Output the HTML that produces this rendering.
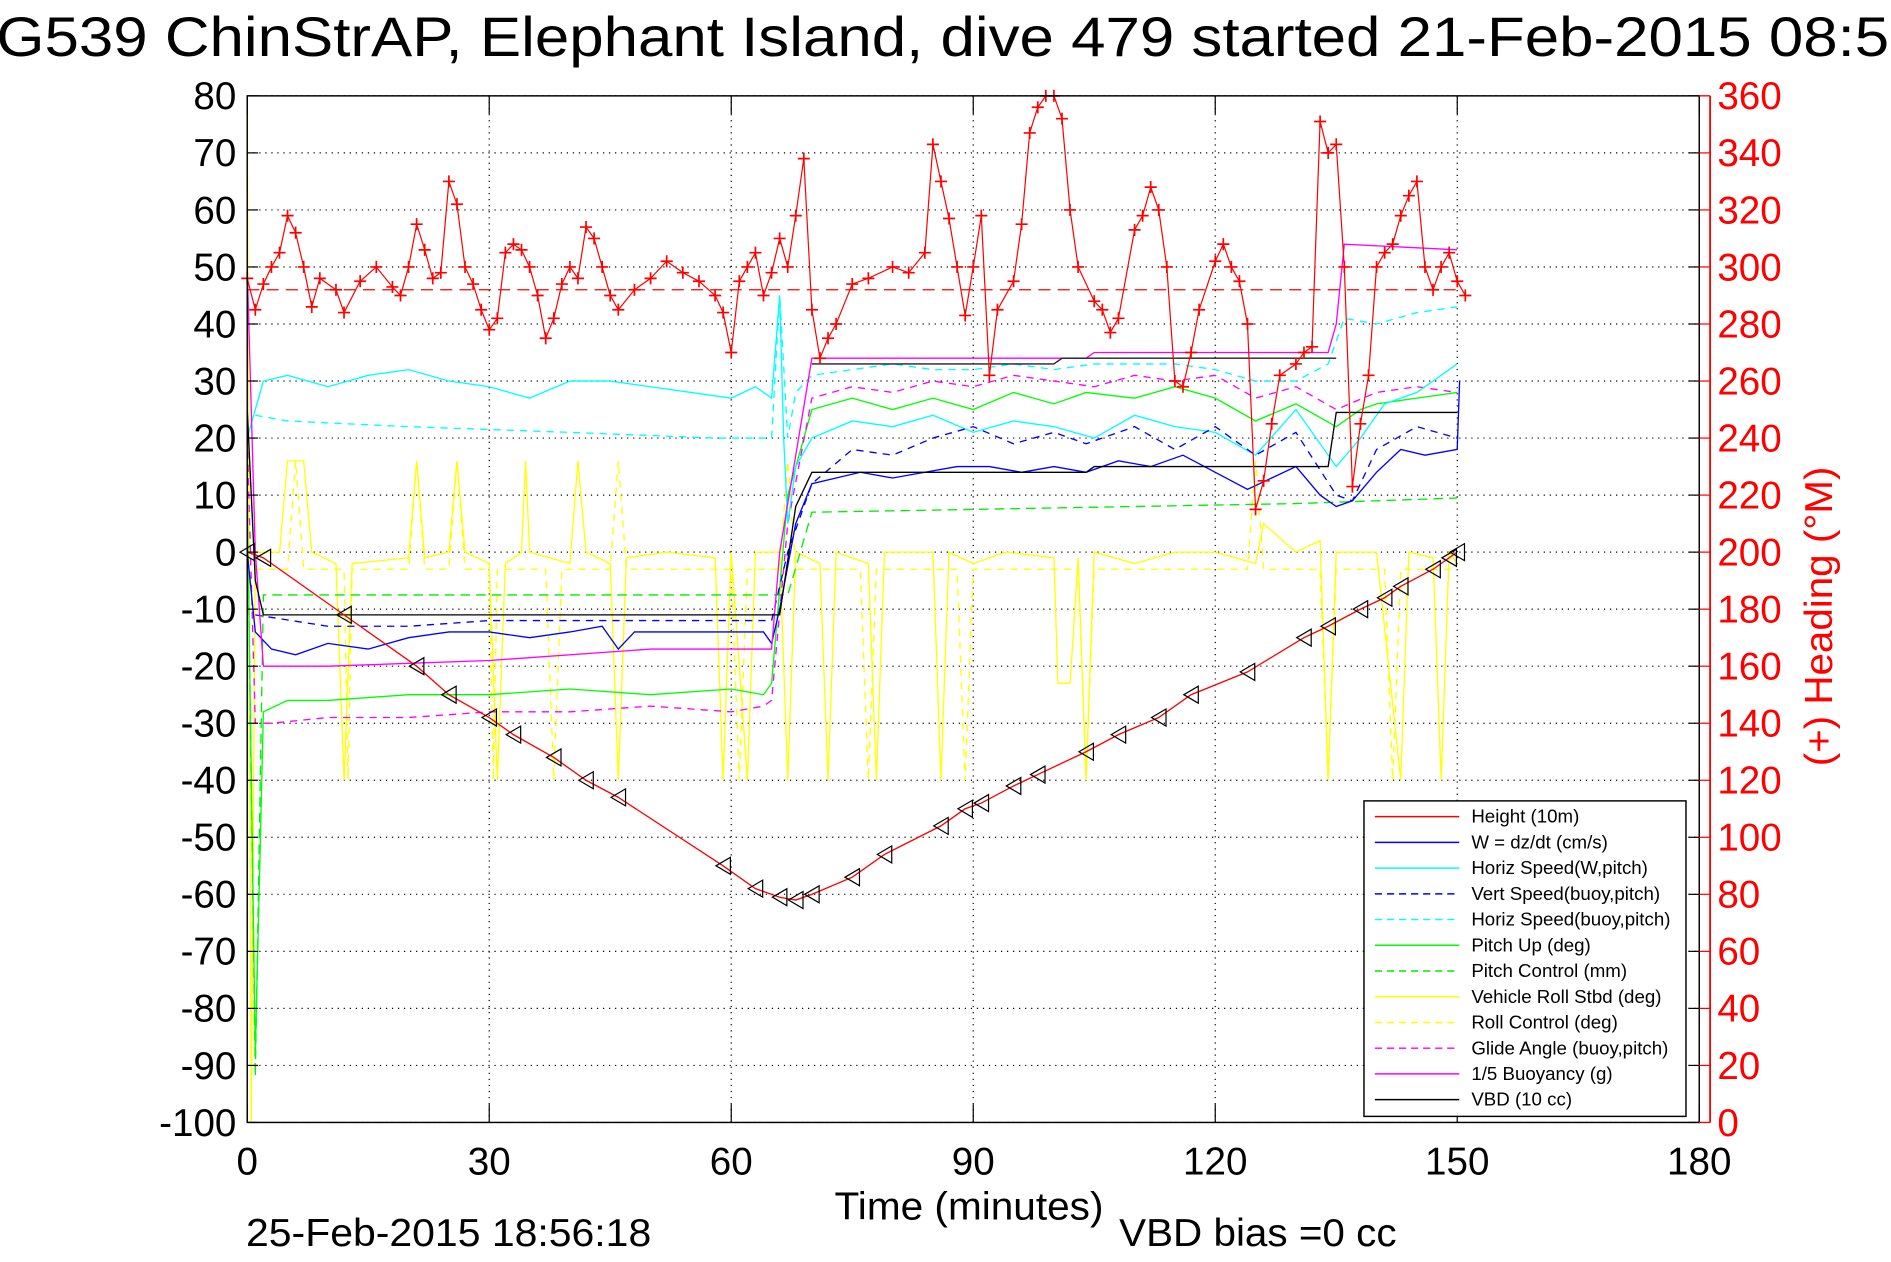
<!DOCTYPE html>
<html><head><meta charset="utf-8"><style>
html,body{margin:0;padding:0;background:#fff;}
svg{display:block;font-family:"Liberation Sans",sans-serif;}
</style></head><body>
<svg id="chart" width="1891" height="1262" viewBox="0 0 1568 1040" preserveAspectRatio="none" xmlns="http://www.w3.org/2000/svg">
<rect x="0" y="0" width="1568" height="1040" fill="#fff"/>
<text x="-3" y="46" font-size="46" textLength="1598" lengthAdjust="spacingAndGlyphs">G539 ChinStrAP, Elephant Island, dive 479 started 21-Feb-2015 08:59</text>
<g id="grid"></g>
<g id="series"></g>
<g id="axes"></g>
<text x="692" y="1005" font-size="32" textLength="223" lengthAdjust="spacingAndGlyphs">Time (minutes)</text>
<text x="204" y="1027" font-size="32" textLength="336" lengthAdjust="spacingAndGlyphs">25-Feb-2015 18:56:18</text>
<text x="928" y="1027" font-size="32" textLength="230" lengthAdjust="spacingAndGlyphs">VBD bias =0 cc</text>
<text transform="translate(1519,508) rotate(-90)" font-size="32" fill="#f00" text-anchor="middle" textLength="247" lengthAdjust="spacingAndGlyphs">(+) Heading (°M)</text>
<g>
<rect x="1131" y="660" width="267" height="260" fill="#fff" stroke="#000" stroke-width="1.2"/>
<g id="legend-items"></g>
</g>
</svg>
<script>
const heightT=[0,2,12,21,25,30,33,38,42,46,59,63,66,68,70,75,79,86,89,91,95,98,104,108,113,117,124,131,134,138,141,143,147,149,150];
const heightV=[0,-1,-11,-20,-25,-29,-32,-36,-40,-43,-55,-59,-60.5,-61,-60,-57,-53,-48,-45,-44,-41,-39,-35,-32,-29,-25,-21,-15,-13,-10,-8,-6,-3,-1,0];
const wT=[0,1,3,6,10,15,20,25,30,35,40,44,46,48,52,56,60,64,65,66,68,70,73,76,80,84,88,92,96,100,104,108,112,116,120,124,127,130,133,135,137,140,143,146,150,150.3];
const wV=[0,-14,-17,-18,-16,-17,-15,-14,-14,-15,-14,-13,-17,-14,-14,-14,-14,-14,-16,-10,5,12,13,14,13,14,15,15,14,15,14,16,15,17,14,11,13,15,10,8,9,14,18,17,18,30];
const vsT=[1,10,20,30,40,50,60,65,67,70,75,80,85,90,95,100,104,110,115,120,125,130,135,137,140,145,150];
const vsV=[-11,-13,-13,-12,-12,-12,-12,-12,0,12,18,17,20,22,19,21,19,22,18,22,17,21,10,9,18,22,20];
const hsT=[0,2,5,10,15,20,25,30,35,40,45,50,55,60,63,65,66,66.5,67,68,70,75,80,85,90,95,100,105,110,115,120,125,130,135,138,141,145,150];
const hsV=[20,30,31,29,31,32,30,29,27,30,30,29,28,27,29,27,45,20,5,15,20,23,22,24,21,23,22,20,24,22,21,17,25,15,20,26,28,33];
const hbT=[1,5,20,40,58,60,63,65,66,67,68,70,75,80,85,90,95,100,105,110,115,120,125,130,134,136,140,145,150];
const hbV=[24,23,22,21,20,20,20,20,45,20,28,31,32,33,32,32,33,32,33,33,33,32,30,30,33,41,40,42,43];
const puT=[0,1,2,5,10,20,30,40,50,60,64,65,67,70,75,80,85,90,95,100,104,110,115,120,125,130,135,138,140,145,150];
const puV=[10,-88,-28,-26,-26,-25,-25,-24,-25,-24,-25,-23,10,25,27,25,27,25,28,26,28,27,29,27,23,26,22,25,26,27,28];
const pcT=[0,1,2,65,67,70,90,110,130,150];
const pcV=[10,-92,-7.5,-7.5,-7.5,7,7.5,8,8.5,9.5];
const gaT=[0,1,3,10,20,30,40,50,60,64,65,67,70,75,80,85,90,95,100,105,110,115,120,125,130,135,140,145,150];
const gaV=[20,-30,-30,-29,-29,-28,-28,-27,-28,-27,-26,5,27,29,28,30,29,31,30,29,31,30,31,27,29,25,28,29,28];
const buT=[0,1,2,10,30,50,65,66,70,104,105,134,135,136,150];
const buV=[50,0,-20,-20,-19,-17,-17,0,34,34,35,35,40,54,53];
const vbdT=[0,1,2,65,66,68,70,104,105,134,135,150];
const vbdV=[25,-5,-11,-11,-11,8,14,14,15,15,24.5,24.5];
const vbd2T=[70,100,101,135];
const vbd2V=[33,33,34,34];
const rollT=[0,0.5,1,4,5,7,8,11,12,13,20,21,22,25,26,27,30,31,32,34,34.5,35,40,41,42,45,46,47,52,58,59,60,62,63,66,67,68,71,72,73,77,78,79,85,86,87,90,94,100,100.5,102,103,104,105,110,115,120,125,126,130,133,134,135,140,143,144,147,148,149,150];
const rollV=[80,-100,0,0,16,16,0,-2,-40,-2,-1,16,-1,0,16,0,-2,-40,-2,0,16,0,-2,16,0,-2,-40,-1,0,-1,-40,0,-40,0,0,-40,0,-2,-40,0,-2,-40,0,0,-40,0,-2,0,-1,-23,-23,-1,-40,0,-2,0,0,-2,5,0,2,-40,0,0,-40,0,-1,-40,0,-2];
const rcT=[1,5,6,7,12,12.5,13,20,21,22,25,26,27,30,30.5,31,37,38,39,45,46,47,60,61,62,66,67,68,76,77,78,88,89,90,103,104,105,124,125,126,133,134,135,141,142,143,150];
const rcV=[-3,-3,16,-3,-3,-40,-3,-3,16,-3,-3,16,-3,-3,-40,-3,-3,-40,-3,-3,16,-3,-3,-40,-3,-3,16,-3,-3,-40,-3,-3,-40,-3,-3,-40,-3,-3,16,-3,-3,-40,-3,-3,-40,-3,-3];
const headT=[0,1,2,3,4,5,6,7,8,9,11,12,14,16,18,19,20,21,22,23,24,25,26,27,28,29,30,31,32,33,34,35,36,37,38,39,40,41,42,43,44,45,46,48,50,52,54,56,58,59,60,61,62,63,64,65,66,67,68,69,70,71,72,73,75,77,80,82,84,85,86,87,88,89,90,91,92,93,95,96,97,98,99,100,101,102,103,105,106,107,108,110,111,112,113,114,115,116,117,118,120,121,122,123,124,125,126,127,128,130,131,132,133,134,135,136,137,138,139,140,141,142,143,144,145,146,147,148,149,150,151];
const headV=[296,285,294,300,305,318,312,300,286,296,292,284,295,300,293,290,300,315,306,296,298,330,322,300,294,285,278,282,305,308,306,300,290,275,282,294,300,296,314,310,300,290,285,292,296,302,298,295,290,284,270,295,300,305,290,298,310,300,318,338,285,268,275,280,294,296,300,298,305,343,330,317,300,283,300,318,262,285,295,315,347,356,360,360,352,320,300,288,285,277,282,313,318,328,320,300,260,258,270,285,302,308,300,295,280,215,225,245,262,266,270,272,351,340,343,300,223,245,262,300,305,308,318,325,330,300,292,300,305,295,290];
const leftTicks=[80,70,60,50,40,30,20,10,0,-10,-20,-30,-40,-50,-60,-70,-80,-90,-100];
const rightTicks=[360,340,320,300,280,260,240,220,200,180,160,140,120,100,80,60,40,20,0];
const xTicks=[0,30,60,90,120,150,180];

const X0=205,X1=1409,Y0=79,Y1=925,NS='http://www.w3.org/2000/svg';
const sx=t=>X0+(t/180)*(X1-X0);
const sy=v=>Y0+((80-v)/180)*(Y1-Y0);
const sh=h=>Y1-(h/360)*(Y1-Y0);
function mk(tag,attrs,parent){const e=document.createElementNS(NS,tag);for(const k in attrs)e.setAttribute(k,attrs[k]);parent.appendChild(e);return e;}
const grid=document.getElementById('grid'),axes=document.getElementById('axes'),ser=document.getElementById('series');

leftTicks.forEach(v=>{
  const g=mk('line',{x1:X0,x2:X1,y1:sy(v),y2:sy(v),stroke:'#000','stroke-width':1,'stroke-dasharray':'1 4'},grid);
  
  
  const tk=mk('line',{x1:X0,x2:X0+9,y1:sy(v),y2:sy(v),stroke:'#000'},axes);
  
  
  const tk2=mk('line',{x1:X1-9,x2:X1,y1:sy(v),y2:sy(v),stroke:'#000'},axes);
  
  
  const t=mk('text',{x:X0-9,y:sy(v)+11,'font-size':32,'text-anchor':'end'},axes);
  t.textContent=v;
  
  
});
xTicks.forEach(v=>{
  if(v>0&&v<180){const g=mk('line',{x1:sx(v),x2:sx(v),y1:Y0,y2:Y1,stroke:'#000','stroke-width':1,'stroke-dasharray':'1 4'},grid);
  
  }
  mk('line',{x1:sx(v),x2:sx(v),y1:Y1,y2:Y1-15,stroke:'#000'},axes);
  mk('line',{x1:sx(v),x2:sx(v),y1:Y0,y2:Y0+15,stroke:'#000'},axes);
  const t=mk('text',{x:sx(v),y:968,'font-size':32,'text-anchor':'middle'},axes);
  t.textContent=v;
  
  
});
const frame=mk('rect',{x:X0,y:Y0,width:X1-X0,height:Y1-Y0,fill:'none',stroke:'#000','stroke-width':1.2},axes);


const RX=1418;
const rax=mk('line',{x1:RX,x2:RX,y1:Y0,y2:Y1,stroke:'#f00','stroke-width':1.5},axes);


mk('line',{x1:X1,x2:RX,y1:Y1,y2:Y1,stroke:'#f00'},axes);
mk('line',{x1:X1,x2:RX,y1:Y0,y2:Y0,stroke:'#f00'},axes);
rightTicks.forEach(h=>{
  mk('line',{x1:RX-9,x2:RX,y1:sh(h),y2:sh(h),stroke:'#f00'},axes);
  const t=mk('text',{x:RX+6,y:sh(h)+11,'font-size':32,fill:'#f00'},axes);
  t.textContent=h;
  
  
});

function line(T,V,color,dash,name,w,ys){
  const f=ys||sy;
  const p=mk('polyline',{points:T.map((t,i)=>sx(t).toFixed(1)+','+f(V[i]).toFixed(1)).join(' '),fill:'none',stroke:color,'stroke-width':w||1.1,'stroke-dasharray':dash||'none'},ser);
  
  
}
line(rollT,rollV,'#ff0',null,'vehicle-roll-line');
line(rcT,rcV,'#ff0','6 5','roll-control-line');
line(pcT,pcV,'#0e0','8 5','pitch-control-line');
line(puT,puV,'#0f0',null,'pitch-up-line');
line(gaT,gaV,'#f0f','6 5','glide-angle-line');
line(hbT,hbV,'#0ff','6 5','horiz-speed-buoy-line');
line(hsT,hsV,'#0ff',null,'horiz-speed-w-line');
line(vsT,vsV,'#00f','6 5','vert-speed-buoy-line');
line(wT,wV,'#00f',null,'w-line');
line(buT,buV,'#f0f',null,'buoyancy-line');
line(vbdT,vbdV,'#000',null,'vbd-line');
line(vbd2T,vbd2V,'#222',null,'vbd-secondary-line');
const hd=mk('line',{x1:sx(0),x2:sx(150),y1:sh(292),y2:sh(292),stroke:'#f00','stroke-dasharray':'10 6'},ser);


line(headT,headV,'#f00',null,'heading-line',1,sh);
headT.forEach((t,i)=>{
  const x=sx(t),y=sh(headV[i]);
  const m=mk('path',{d:`M${x-5},${y}H${x+5}M${x},${y-5}V${y+5}`,stroke:'#f00','stroke-width':1.4},ser);
  
  
});
line(heightT,heightV,'#f00',null,'height-line');
heightT.forEach((t,i)=>{
  const x=sx(t),y=sy(heightV[i]);
  const m=mk('path',{d:`M${x-6},${y}L${x+6},${y-7}L${x+6},${y+7}Z`,fill:'none',stroke:'#000','stroke-width':1},ser);
  
  
});
const leg=document.getElementById('legend-items');
const legNames=['Height (10m)','W  =  dz/dt (cm/s)','Horiz Speed(W,pitch)','Vert Speed(buoy,pitch)','Horiz Speed(buoy,pitch)','Pitch Up (deg)','Pitch Control (mm)','Vehicle Roll Stbd (deg)','Roll Control (deg)','Glide Angle (buoy,pitch)','1/5 Buoyancy (g)','VBD (10 cc)'];
const legColors=['#f00','#00f','#0ff','#00f','#0ff','#0f0','#0e0','#ff0','#ff0','#f0f','#f0f','#000'];
const legDash=[0,0,0,1,1,0,1,0,1,1,0,0];
legNames.forEach((n,i)=>{
  const y=673+i*21.2;
  const l=mk('line',{x1:1140,x2:1210,y1:y,y2:y,stroke:legColors[i],'stroke-width':1.2,'stroke-dasharray':legDash[i]?'6 4':'none'},leg);
  
  
  const t=mk('text',{x:1220,y:y+5,'font-size':15.5},leg);
  t.textContent=n;
  
  
});
</script>
</body></html>
